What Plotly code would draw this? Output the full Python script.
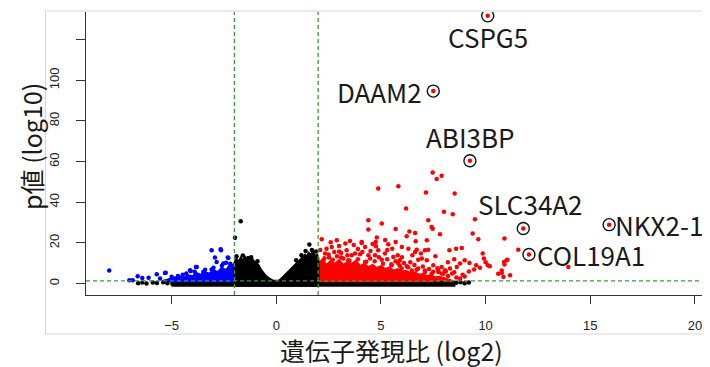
import plotly.graph_objects as go

# ---------------- data ----------------
fc_cut = 2.0          # log2 fold-change thresholds
p_cut = 1.3           # -log10(0.05)

# labelled genes
genes = ["CSPG5", "DAAM2", "ABI3BP", "SLC34A2", "NKX2-1", "COL19A1"]
gene_x = [10.1, 7.5, 9.25, 11.8, 15.9, 12.07]
gene_y = [131.7, 94.7, 60.4, 27.1, 29.0, 14.3]

# dense black (not significant) central cloud - upper outline
black_core_x = [-2.0, -1.9, -1.8, -1.7, -1.6, -1.5, -1.4, -1.35, -1.25, -1.15, -1.05, -0.95, -0.86,
                -0.75, -0.65, -0.54, -0.4, -0.22, -0.1, 0.0, 0.1, 0.26, 0.4, 0.57, 0.7, 0.89, 1.0,
                1.1, 1.2, 1.3, 1.37, 1.45, 1.55, 1.65, 1.75, 1.85, 1.95, 2.0]
black_core_y = [10.0, 12.0, 10.5, 12.5, 11.0, 13.0, 11.5, 13.4, 11.0, 12.0, 10.5, 10.0, 9.0,
                7.0, 5.5, 4.1, 2.8, 1.6, 0.9, 0.6, 1.0, 2.5, 4.0, 5.7, 7.0, 9.0, 10.0,
                11.0, 12.5, 13.5, 14.0, 13.0, 15.0, 14.0, 15.5, 13.5, 14.0, 12.5]
# low, non-significant band along the bottom
black_band_x = [-5.0, -4.0, -3.0, 8.0, 8.5]
black_band_y = [0.5, 1.0, 1.3, 1.3, 0.8]
# sparse black points
black_x = [-1.70, -1.97, 1.58, -6.6, -6.4, -6.2, -5.9, -5.7, -5.4, -5.2, 8.6, 8.8, 9.0, 9.2, 7.6, 7.9,
           -1.9, -1.6, -1.2, 1.4, 1.7, 1.9, -0.9, 0.95, 1.2]
black_y = [30.7, 22.5, 19.2, 0.2, 0.5, 0.1, 0.6, 0.3, 0.7, 0.2, 0.4, 0.7, 0.2, 0.5, 0.0, 0.3,
           13.5, 13.8, 13.0, 16.0, 16.5, 15.8, 11.0, 11.5, 14.0]

# dense blue (down) cloud - upper outline
blue_core_x = [-2.0, -2.1, -2.25, -2.4, -2.6, -2.8, -3.0, -3.2, -3.4, -3.6, -3.8, -4.0, -4.2,
               -4.4, -4.6, -4.8, -5.0, -5.2, -5.4]
blue_core_y = [9.0, 7.0, 8.5, 6.5, 7.5, 5.5, 6.5, 4.8, 5.5, 4.2, 5.0, 3.5, 4.0,
               3.0, 3.3, 2.4, 2.6, 1.8, 1.3]
blue_x = [-7.98, -7.02, -6.86, -6.62, -6.4, -6.1, -5.71, -5.32, -5.55, -4.84, -4.47, -4.09, -3.84,
          -3.49, -3.09, -2.93, -2.85, -2.64, -2.53, -2.4, -2.29, -2.16, -3.09, -2.66, -2.32,
          -3.8, -4.12, -5.28, -2.2, -2.6, -3.0, -3.4, -3.9, -4.3, -4.7, -5.0]
blue_y = [6.5, 1.6, 1.6, 3.6, 2.8, 2.9, 4.6, 5.2, 2.5, 2.5, 4.4, 6.2, 8.2,
          5.7, 6.9, 12.8, 10.6, 16.4, 9.9, 10.3, 12.6, 8.9, 16.4, 16.9, 12.8,
          8.2, 6.6, 5.4, 9.8, 8.8, 7.8, 6.8, 5.8, 5.0, 3.8, 3.4]

# dense red (up) cloud - upper outline
red_core_x = [2.0, 2.2, 2.4, 2.6, 2.8, 3.0, 3.2, 3.4, 3.6, 3.8, 4.0, 4.2, 4.4, 4.6, 4.8, 5.0,
              5.2, 5.4, 5.6, 5.8, 6.0, 6.2, 6.4, 6.6, 6.8, 7.0, 7.2, 7.4, 7.6, 7.8, 8.0, 8.2, 8.4]
red_core_y = [10.0, 11.5, 9.0, 11.0, 9.5, 11.5, 9.0, 10.5, 9.5, 11.0, 8.5, 9.5, 8.0, 9.0,
              7.5, 8.5, 7.0, 7.8, 6.2, 7.0, 5.8, 6.2, 5.0, 5.4, 4.3, 4.6, 3.6, 4.0, 3.0, 3.3,
              2.5, 2.1, 1.3]
red_x = [2.17, 2.89, 3.52, 4.08, 4.40, 4.40, 4.87, 5.04, 4.80, 4.75, 5.83, 5.70, 6.20, 6.36, 6.63,
         6.23, 6.66, 7.15, 7.47, 7.66, 7.90, 8.52, 8.01, 8.43, 7.26, 7.42, 7.82, 7.19, 7.26, 6.71,
         6.78, 6.95, 7.19, 8.59, 8.86, 8.27, 9.49, 9.38, 9.65, 9.86, 10.6, 8.78, 10.9, 11.0, 10.9,
         13.95, 10.85, 9.92, 10.0, 10.1, 10.2, 9.0, 9.23, 9.55, 9.73, 9.45, 10.77, 8.78, 8.62, 8.3,
         8.06, 7.74, 4.08, 4.24, 4.11, 4.76, 4.87, 5.35, 5.54, 5.59, 6.31, 6.63, 6.91, 7.10, 2.65,
         2.77, 2.33, 2.52, 2.25, 3.36, 3.60, 3.76, 3.44, 3.20, 4.72, 4.48, 4.24, 5.04, 5.19, 5.51,
         5.83, 5.99, 6.23, 6.47, 6.78, 7.10, 7.42, 7.74, 7.98, 2.1, 2.4, 3.0, 3.1, 3.9, 4.5, 5.3,
         5.8, 6.0, 5.7, 5.9, 6.4, 6.0, 3.7, 2.9, 4.6, 5.2, 3.3, 2.6, 6.5, 7.5, 7.9, 8.2, 8.4, 8.9,
         9.2, 9.0, 8.5, 7.6, 7.47, 11.56, 10.88, 11.04, 10.77, 11.17,
         2.3, 2.7, 3.1, 3.5, 3.9, 4.3, 4.7, 5.1, 5.5, 5.9, 6.3, 6.7, 7.1, 7.5, 7.9, 8.2, 8.6,
         2.5, 3.0, 3.4, 4.0, 4.4, 4.9, 5.3, 5.7, 6.1, 6.6, 7.0, 7.3, 7.7, 8.1, 8.5]
red_y = [21.8, 21.3, 21.0, 20.5, 31.2, 26.6, 46.8, 29.6, 22.7, 20.5, 47.9, 26.9, 36.9, 25.6, 24.9,
         23.3, 20.8, 44.8, 54.7, 51.4, 53.0, 44.3, 35.3, 34.1, 31.2, 27.9, 24.3, 21.3, 16.7, 16.7,
         11.8, 12.3, 11.5, 17.2, 17.5, 16.4, 31.7, 24.6, 21.8, 14.8, 4.9, 2.5, 22.2, 11.5, 9.4,
         8.2, 3.3, 12.3, 10.5, 9.0, 8.5, 11.5, 10.2, 9.0, 7.8, 7.0, 5.2, 9.9, 8.2, 7.4,
         6.6, 5.7, 20.0, 18.0, 15.6, 18.4, 16.4, 19.4, 17.2, 13.1, 17.2, 15.6, 14.8, 16.4, 18.0,
         15.6, 14.8, 12.8, 11.5, 16.4, 13.9, 14.8, 11.5, 12.3, 13.9, 12.3, 10.6, 11.8, 14.8, 9.0,
         9.9, 7.4, 8.5, 6.5, 7.4, 5.7, 4.9, 6.5, 4.9, 16.5, 17.2, 18.5, 15.0, 17.0, 16.0, 16.5,
         14.0, 18.0, 20.5, 11.5, 10.5, 13.0, 19.0, 13.5, 19.5, 21.5, 19.7, 20.3, 14.0, 9.0, 8.2,
         10.5, 5.0, 4.3, 6.0, 3.5, 12.0, 13.5, 27.0, 16.7, 10.6, 11.8, 6.5, 4.1,
         12.5, 11.8, 12.8, 11.2, 12.0, 10.8, 11.0, 9.8, 9.5, 8.8, 8.0, 6.8, 6.5, 5.8, 5.0, 3.8, 3.0,
         14.3, 15.8, 14.0, 14.5, 14.0, 13.0, 12.0, 11.0, 10.2, 9.2, 8.4, 7.2, 7.6, 6.0, 5.6]

x_ticks = [-5, 0, 5, 10, 15, 20]
x_tick_text = ["\u22125", "0", "5", "10", "15", "20"]
y_ticks = [0, 20, 40, 60, 80, 100, 120]
y_tick_text = ["0", "20", "40", "60", "80", "100", ""]

# ---------------- figure ----------------
BASE = -0.9
fig = go.Figure()


def cloud(xs, ys, color, name, x_from, x_to, base=BASE):
    px = [x_from] + list(xs) + [x_to, x_from]
    py = [base] + list(ys) + [base, base]
    return go.Scatter(x=px, y=py, mode="lines", fill="toself", fillcolor=color,
                      line=dict(color=color, width=2.5), name=name, hoverinfo="skip")


fig.add_trace(cloud(black_band_x, black_band_y, "black", "band", black_band_x[0], black_band_x[-1]))
fig.add_trace(cloud(blue_core_x, blue_core_y, "#0000ff", "down", blue_core_x[0], blue_core_x[-1], base=p_cut))
fig.add_trace(cloud(red_core_x, red_core_y, "#ff0000", "up", red_core_x[0], red_core_x[-1], base=p_cut))
fig.add_trace(cloud(black_core_x, black_core_y, "black", "ns", black_core_x[0], black_core_x[-1]))

fig.add_trace(go.Scatter(x=black_x, y=black_y, mode="markers",
                         marker=dict(color="black", size=4.5, line=dict(width=0))))
fig.add_trace(go.Scatter(x=blue_x, y=blue_y, mode="markers",
                         marker=dict(color="#0000ff", size=4.5, line=dict(width=0))))
fig.add_trace(go.Scatter(x=red_x, y=red_y, mode="markers",
                         marker=dict(color="#ff0000", size=4.5, line=dict(width=0))))
fig.add_trace(go.Scatter(x=gene_x, y=gene_y, mode="markers",
                         marker=dict(color="#ff0000", size=4.5, line=dict(width=0))))
fig.add_trace(go.Scatter(x=gene_x, y=gene_y, mode="markers",
                         marker=dict(symbol="circle-open", color="#111111", size=12,
                                     line=dict(width=1.4))))

# thresholds
dash_style = dict(color="#3c9a3c", width=1.3, dash="4px,3px")
for xv in (-fc_cut, fc_cut):
    fig.add_shape(type="line", xref="x", yref="paper", x0=xv, x1=xv, y0=0, y1=1, line=dash_style)
fig.add_shape(type="line", xref="paper", yref="y", x0=0, x1=1, y0=p_cut, y1=p_cut, line=dash_style)

# outer light frame
fig.add_shape(type="rect", xref="paper", yref="paper", x0=-0.0654, x1=1.0, y0=-0.138, y1=1.0035,
              line=dict(color="#d6d6d6", width=1), layer="below")

# gene labels
label_font = dict(family="Noto Sans CJK JP, Noto Sans, sans-serif", size=26, color="#1a1a1a")
label_cfg = {
    "CSPG5": dict(xanchor="center", yanchor="middle", xshift=0, yshift=-21),
    "DAAM2": dict(xanchor="right", yanchor="middle", xshift=-9, yshift=0),
    "ABI3BP": dict(xanchor="center", yanchor="middle", xshift=0, yshift=24),
    "SLC34A2": dict(xanchor="center", yanchor="middle", xshift=7, yshift=25),
    "NKX2-1": dict(xanchor="left", yanchor="middle", xshift=4, yshift=0),
    "COL19A1": dict(xanchor="left", yanchor="middle", xshift=6, yshift=0),
}
for g, gx, gy in zip(genes, gene_x, gene_y):
    fig.add_annotation(x=gx, y=gy, text=g, showarrow=False, font=label_font, **label_cfg[g])

# axis titles
fig.add_annotation(xref="paper", yref="paper", x=0.493, y=-0.194, text="遺伝子発現比 (log2)",
                   showarrow=False, xanchor="center", yanchor="middle",
                   font=dict(family="Noto Sans CJK JP, sans-serif", size=25, color="#1a1a1a"))
fig.add_annotation(xref="paper", yref="paper", x=-0.0889, y=0.5265, text="p値 (log10)",
                   showarrow=False, xanchor="center", yanchor="middle", textangle=-90,
                   font=dict(family="Noto Sans CJK JP, sans-serif", size=25, color="#1a1a1a"))

tick_font = dict(family="Liberation Sans, Arial, sans-serif", size=13, color="#222222")
# the page body adds an 8px offset, so the figure is 8px smaller and its margins 8px tighter
fig.update_layout(
    width=702, height=359,
    margin=dict(l=78, r=5, t=4, b=72, autoexpand=False),
    paper_bgcolor="white", plot_bgcolor="white",
    showlegend=False,
    xaxis=dict(range=[-9.09, 20.48], tickvals=x_ticks, ticktext=x_tick_text,
               showgrid=False, zeroline=False, showline=True, linecolor="#333333", linewidth=1.3,
               ticks="outside", ticklen=8, tickwidth=1.2, tickcolor="#333333",
               tickfont=tick_font, ticklabelstandoff=10, automargin=False),
    yaxis=dict(range=[-5.6, 133.6], tickvals=y_ticks, ticktext=y_tick_text, tickangle=-90,
               showgrid=False, zeroline=False, showline=True, linecolor="#333333", linewidth=1.3,
               ticks="outside", ticklen=9, tickwidth=1.2, tickcolor="#333333",
               tickfont=tick_font, ticklabelstandoff=12, automargin=False),
)

fig.write_html("out.html")
